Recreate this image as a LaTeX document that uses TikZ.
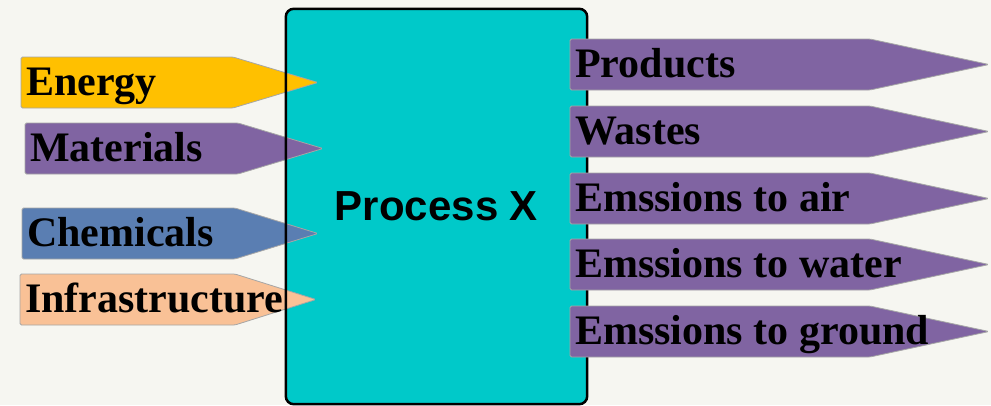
\documentclass[tikz,border=0pt]{standalone}
\usepackage{fontspec}
\setmainfont{Liberation Serif}
\setsansfont{Liberation Sans}
\usetikzlibrary{positioning,calc}

\definecolor{bgpaper}{HTML}{F6F6F1}
\definecolor{proccyan}{HTML}{00C9C9}
\definecolor{inyellow}{HTML}{FFC000}
\definecolor{flowpurple}{HTML}{8064A2}
\definecolor{inblue}{HTML}{5A7EB2}
\definecolor{inpeach}{HTML}{F9C196}

\begin{document}
\begin{tikzpicture}[
    x=1pt, y=-1pt,
    procbox/.style={rectangle, fill=proccyan, rounded corners=8pt, minimum width=301pt, minimum height=395pt, text centered, font=\sffamily\bfseries\fontsize{42}{42}\selectfont},
    procline/.style={draw=black, line width=2.5pt, rounded corners=8pt},
    flow/.style={draw=gray!70, line width=0.8pt, rounded corners=1.5pt},
    flowtext/.style={anchor=base west, inner sep=0pt, font=\bfseries\fontsize{42}{42}\selectfont}
]
    \fill[bgpaper] (0,0) rectangle (991,405);
    \useasboundingbox (0,0) rectangle (991,405);

    % central process
    \node[procbox] (proc) at (436.5,206.5) {Process X};

    % inputs
    \foreach \l/\t/\s/\p/\c/\name/\txt in {
        21/57/233/318/inyellow/energy/Energy,
        25/123/238/323/flowpurple/materials/Materials,
        22/208/235/318/inblue/chemicals/Chemicals,
        20/274/235/316/inpeach/infra/Infrastructure}{
        \draw[flow, fill=\c] (\l,\t) -- (\s,\t) -- (\p,\t+25.5) -- (\s,\t+51) -- (\l,\t+51) -- cycle;
        \node[flowtext] (\name) at (\l+5,\t+38.5) {\txt};
    }

    \draw[procline] (proc.south west) rectangle (proc.north east);

    % outputs
    \foreach \t/\name/\txt in {
        39/products/Products,
        106/wastes/Wastes,
        173/air/Emssions to air,
        239/water/Emssions to water,
        306/ground/Emssions to ground}{
        \draw[flow, fill=flowpurple] (570,\t) -- (870,\t) -- (989,\t+25.5) -- (870,\t+51) -- (570,\t+51) -- cycle;
        \node[flowtext] (\name) at (575,\t+38.5) {\txt};
    }
\end{tikzpicture}
\end{document}
